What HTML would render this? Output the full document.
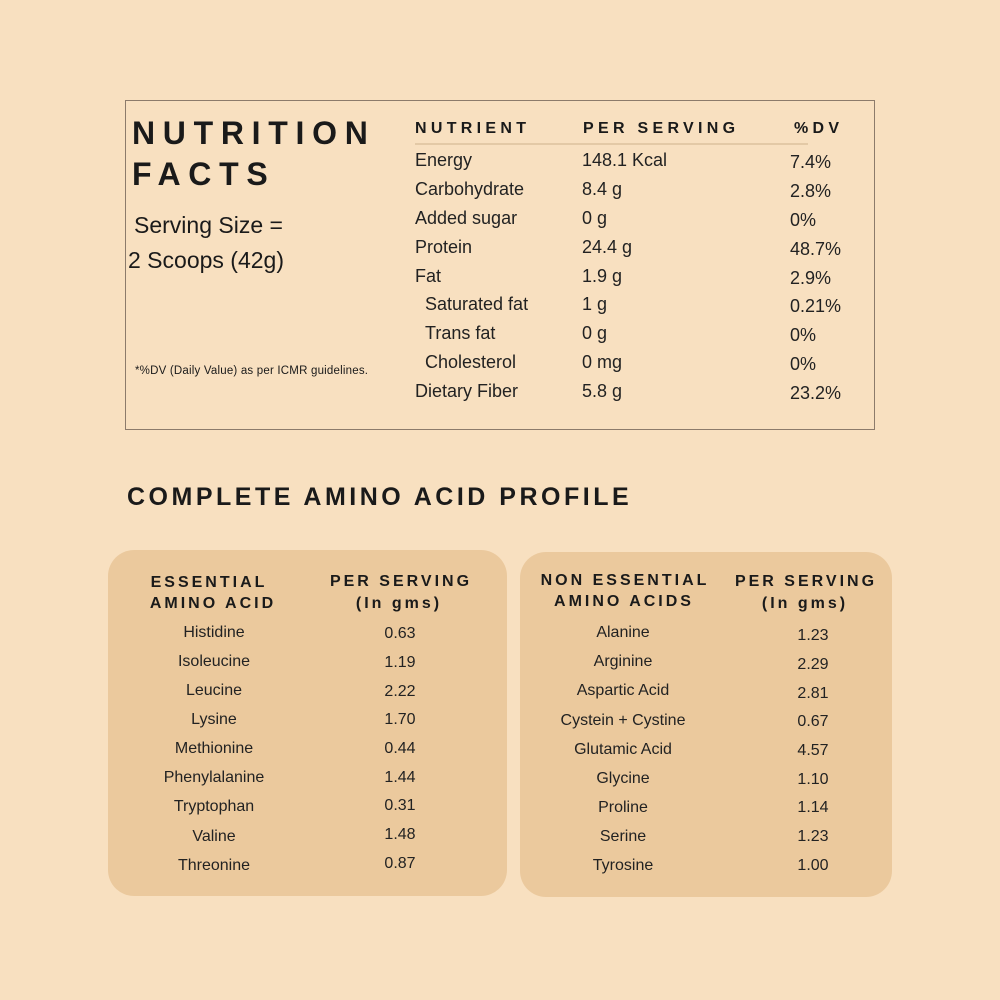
<!DOCTYPE html>
<html><head><meta charset="utf-8"><style>
body{margin:0;width:1000px;height:1000px;background:#f8e0c0;font-family:"Liberation Sans",sans-serif;color:#1a1a1a;position:relative;overflow:hidden}
.a{position:absolute;white-space:nowrap;line-height:1}
.c{transform:translateX(-50%)}
.box{position:absolute;left:125px;top:100px;width:748px;height:328px;border:1px solid #8c7b6b}
.card{position:absolute;background:#ebc99d;border-radius:26px}
.h{font-weight:bold;letter-spacing:3px;font-size:16px}
.h2{font-weight:bold;letter-spacing:4.3px;font-size:16px}
.r{font-size:18px;color:#222}
.s{font-size:16px;color:#222}
</style></head><body>
<div class="box"></div>
<div class="a" style="left:132px;top:117px;font-size:32px;font-weight:bold;letter-spacing:7.7px">NUTRITION</div>
<div class="a" style="left:132px;top:158px;font-size:32px;font-weight:bold;letter-spacing:7.7px">FACTS</div>
<div class="a" style="left:134px;top:214px;font-size:23px">Serving Size =</div>
<div class="a" style="left:128px;top:249px;font-size:23px">2 Scoops (42g)</div>
<div class="a" style="left:135px;top:366px;font-size:11.5px;letter-spacing:0.2px">*%DV (Daily Value) as per ICMR guidelines.</div>
<div class="a h2" style="left:415px;top:121px">NUTRIENT</div>
<div class="a h2" style="left:583px;top:121px">PER SERVING</div>
<div class="a h2" style="left:794px;top:121px">%DV</div>
<div style="position:absolute;left:415px;top:143px;width:393px;height:2px;background:#e3c9a6"></div>
<div class="a r" style="left:415px;top:151px">Energy</div><div class="a r" style="left:582px;top:151px">148.1 Kcal</div><div class="a r" style="left:790px;top:153px">7.4%</div>
<div class="a r" style="left:415px;top:180px">Carbohydrate</div><div class="a r" style="left:582px;top:180px">8.4 g</div><div class="a r" style="left:790px;top:182px">2.8%</div>
<div class="a r" style="left:415px;top:209px">Added sugar</div><div class="a r" style="left:582px;top:209px">0 g</div><div class="a r" style="left:790px;top:211px">0%</div>
<div class="a r" style="left:415px;top:238px">Protein</div><div class="a r" style="left:582px;top:238px">24.4 g</div><div class="a r" style="left:790px;top:240px">48.7%</div>
<div class="a r" style="left:415px;top:267px">Fat</div><div class="a r" style="left:582px;top:267px">1.9 g</div><div class="a r" style="left:790px;top:269px">2.9%</div>
<div class="a r" style="left:425px;top:295px">Saturated fat</div><div class="a r" style="left:582px;top:295px">1 g</div><div class="a r" style="left:790px;top:297px">0.21%</div>
<div class="a r" style="left:425px;top:324px">Trans fat</div><div class="a r" style="left:582px;top:324px">0 g</div><div class="a r" style="left:790px;top:326px">0%</div>
<div class="a r" style="left:425px;top:353px">Cholesterol</div><div class="a r" style="left:582px;top:353px">0 mg</div><div class="a r" style="left:790px;top:355px">0%</div>
<div class="a r" style="left:415px;top:382px">Dietary Fiber</div><div class="a r" style="left:582px;top:382px">5.8 g</div><div class="a r" style="left:790px;top:384px">23.2%</div>
<div class="a" style="left:127px;top:485px;font-size:25px;font-weight:bold;letter-spacing:3.5px">COMPLETE AMINO ACID PROFILE</div>
<div class="card" style="left:108px;top:550px;width:399px;height:346px"></div>
<div class="card" style="left:520px;top:552px;width:372px;height:345px"></div>
<div class="a h c" style="left:209px;top:575px">ESSENTIAL</div>
<div class="a h c" style="left:213px;top:596px">AMINO ACID</div>
<div class="a h c" style="left:401px;top:574px">PER SERVING</div>
<div class="a h c" style="left:399px;top:596px">(In gms)</div>
<div class="a h c" style="left:625px;top:573px">NON ESSENTIAL</div>
<div class="a h c" style="left:624px;top:594px">AMINO ACIDS</div>
<div class="a h c" style="left:806px;top:574px">PER SERVING</div>
<div class="a h c" style="left:805px;top:596px">(In gms)</div>
<div class="a s c" style="left:214px;top:625px">Histidine</div><div class="a s c" style="left:400px;top:626px">0.63</div>
<div class="a s c" style="left:214px;top:654px">Isoleucine</div><div class="a s c" style="left:400px;top:655px">1.19</div>
<div class="a s c" style="left:214px;top:683px">Leucine</div><div class="a s c" style="left:400px;top:684px">2.22</div>
<div class="a s c" style="left:214px;top:712px">Lysine</div><div class="a s c" style="left:400px;top:712px">1.70</div>
<div class="a s c" style="left:214px;top:741px">Methionine</div><div class="a s c" style="left:400px;top:741px">0.44</div>
<div class="a s c" style="left:214px;top:770px">Phenylalanine</div><div class="a s c" style="left:400px;top:770px">1.44</div>
<div class="a s c" style="left:214px;top:799px">Tryptophan</div><div class="a s c" style="left:400px;top:798px">0.31</div>
<div class="a s c" style="left:214px;top:829px">Valine</div><div class="a s c" style="left:400px;top:827px">1.48</div>
<div class="a s c" style="left:214px;top:858px">Threonine</div><div class="a s c" style="left:400px;top:856px">0.87</div>
<div class="a s c" style="left:623px;top:625px">Alanine</div><div class="a s c" style="left:813px;top:628px">1.23</div>
<div class="a s c" style="left:623px;top:654px">Arginine</div><div class="a s c" style="left:813px;top:657px">2.29</div>
<div class="a s c" style="left:623px;top:683px">Aspartic Acid</div><div class="a s c" style="left:813px;top:686px">2.81</div>
<div class="a s c" style="left:623px;top:713px">Cystein + Cystine</div><div class="a s c" style="left:813px;top:714px">0.67</div>
<div class="a s c" style="left:623px;top:742px">Glutamic Acid</div><div class="a s c" style="left:813px;top:743px">4.57</div>
<div class="a s c" style="left:623px;top:771px">Glycine</div><div class="a s c" style="left:813px;top:772px">1.10</div>
<div class="a s c" style="left:623px;top:800px">Proline</div><div class="a s c" style="left:813px;top:800px">1.14</div>
<div class="a s c" style="left:623px;top:829px">Serine</div><div class="a s c" style="left:813px;top:829px">1.23</div>
<div class="a s c" style="left:623px;top:858px">Tyrosine</div><div class="a s c" style="left:813px;top:858px">1.00</div>
</body></html>
